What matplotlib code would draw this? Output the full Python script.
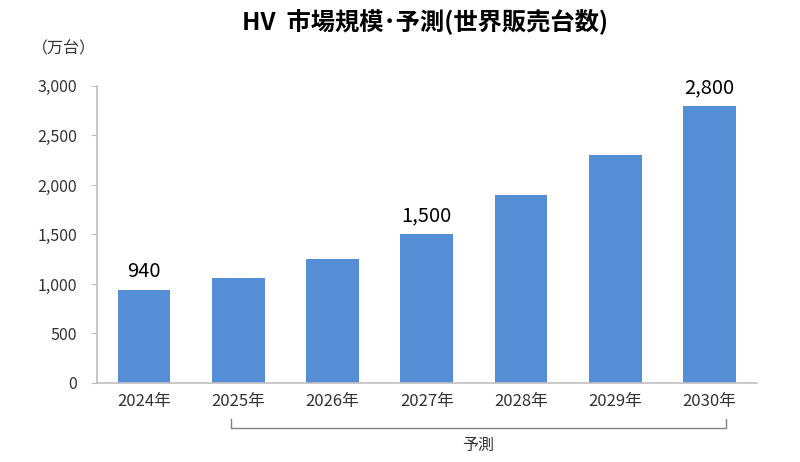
import matplotlib
matplotlib.use('Agg')
import matplotlib.pyplot as plt
import matplotlib.transforms as mtransforms
from matplotlib.ticker import FuncFormatter

plt.rcParams['font.family'] = ['Noto Sans CJK JP', 'DejaVu Sans']

# データ
years = ['2024年', '2025年', '2026年', '2027年', '2028年', '2029年', '2030年']
units = [940, 1060, 1250, 1500, 1900, 2300, 2800]
labeled = {0: '940', 3: '1,500', 6: '2,800'}
yticks = [0, 500, 1000, 1500, 2000, 2500, 3000]

fig = plt.figure(figsize=(8, 4.62), dpi=100)
ax = fig.add_axes([0.121, 0.171, 0.825, 0.643])

x = list(range(len(years)))
ax.bar(x, units, width=0.56, color='#558ED5', zorder=2)

for i, txt in labeled.items():
    ax.text(i, units[i] + 80, txt, ha='center', va='bottom', fontsize=14.5, color='#000000')

ax.set_xlim(-0.5, len(years) - 0.5)
ax.set_ylim(0, 3000)
ax.set_yticks(yticks)
ax.yaxis.set_major_formatter(FuncFormatter(lambda v, p: f'{int(v):,}'))
ax.set_xticks(x)
ax.set_xticklabels(years)

for s in ['top', 'right']:
    ax.spines[s].set_visible(False)
for s in ['left', 'bottom']:
    ax.spines[s].set_color('#BFBFBF')
    ax.spines[s].set_linewidth(1.2)
ax.tick_params(axis='y', length=4, color='#BFBFBF', labelsize=11.5, pad=10, labelcolor='#333333')
ax.tick_params(axis='x', length=0, labelsize=12, pad=7, labelcolor='#333333')

fig.suptitle('HV  市場規模･予測(世界販売台数)', x=0.531, y=0.982, fontsize=17.5, fontweight='bold')
fig.text(0.04, 0.895, '（万台）', fontsize=11.5, color='#333333', va='center')

# 予測の括弧
trans = mtransforms.blended_transform_factory(ax.transData, fig.transFigure)
bx0, bx1 = 0.92, 6.17
by, bh = 0.073, 0.02
ax.plot([bx0, bx0, bx1, bx1], [by + bh, by, by, by + bh], transform=trans,
        color='#808080', lw=1, clip_on=False)
ax.text((bx0 + bx1) / 2, 0.035, '予測', transform=trans, ha='center', va='center',
        fontsize=11.5, color='#333333')

fig.savefig('out.png', dpi=100)
